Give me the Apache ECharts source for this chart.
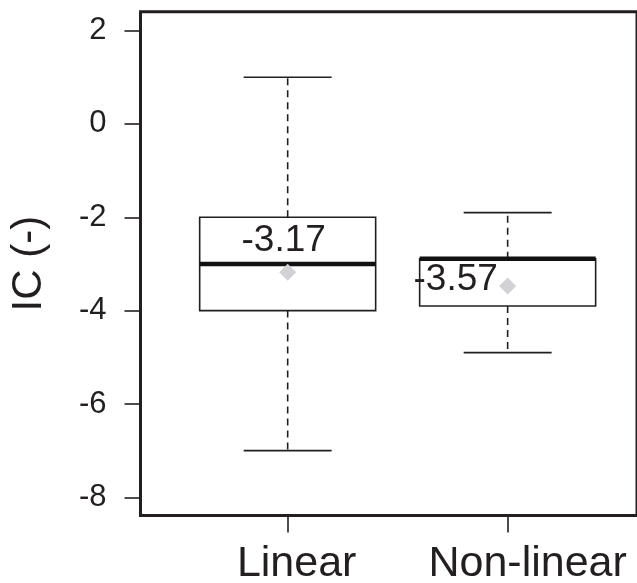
<!DOCTYPE html>
<html>
<head>
<meta charset="utf-8">
<script src="https://cdn.jsdelivr.net/npm/echarts@6/dist/echarts.min.js"></script>
<style>
  html, body { margin: 0; padding: 0; background: #fff; }
  #ic { width: 637px; height: 583px; }
</style>
</head>
<body>
<div id="ic"></div>
<script>
// groups on the x axis
let groups = ['Linear', 'Non-linear']
// five-number summary per group: lower whisker, Q1, median, Q3, upper whisker
let lowWhisker = [-7.0, -4.9]
let q1 = [-4.0, -3.9]
let median = [-3.0, -2.89]
let q3 = [-2.0, -2.89]
let highWhisker = [1.0, -1.9]
// group means (grey diamonds) and their printed labels
let means = [-3.18, -3.47]
let meanLabels = ['-3.17', '-3.57']
let yTicks = [-8, -6, -4, -2, 0, 2]

let ink = '#231f20'
let font = 'Liberation Sans, Arial, sans-serif'

let boxData = groups.map((g, i) => [i + 1, lowWhisker[i], q1[i], median[i], q3[i], highWhisker[i]])
let meanData = groups.map((g, i) => ({
    value: [i + 1, means[i]],
    label: {formatter: meanLabels[i], offset: i === 0 ? [-4, -32] : [-52, -6]}
}))

function renderBox(params, api) {
    let x = api.value(0)
    let lo = api.coord([x, api.value(1)])
    let b1 = api.coord([x, api.value(2)])
    let md = api.coord([x, api.value(3)])
    let b3 = api.coord([x, api.value(4)])
    let hi = api.coord([x, api.value(5)])
    let half = api.size([0.4, 0])[0]
    let cap = api.size([0.2, 0])[0]
    let cx = lo[0]
    let dashed = {stroke: ink, lineWidth: 1.6, lineDash: [7, 5]}
    let solid = {stroke: ink, lineWidth: 1.6}
    return {
        type: 'group',
        children: [
            {type: 'line', shape: {x1: cx, y1: b3[1], x2: cx, y2: hi[1]}, style: dashed},
            {type: 'line', shape: {x1: cx, y1: b1[1], x2: cx, y2: lo[1]}, style: dashed},
            {type: 'line', shape: {x1: cx - cap, y1: hi[1], x2: cx + cap, y2: hi[1]}, style: solid},
            {type: 'line', shape: {x1: cx - cap, y1: lo[1], x2: cx + cap, y2: lo[1]}, style: solid},
            {type: 'rect', shape: {x: cx - half, y: b3[1], width: half * 2, height: b1[1] - b3[1]},
                style: {fill: '#fff', stroke: ink, lineWidth: 1.6}},
            {type: 'line', shape: {x1: cx - half, y1: md[1], x2: cx + half, y2: md[1]},
                style: {stroke: '#111', lineWidth: 4.5}}
        ]
    }
}

let chart = echarts.init(document.getElementById('ic'), null, {renderer: 'canvas'})
chart.setOption({
    animation: false,
    backgroundColor: '#fff',
    textStyle: {fontFamily: font},
    grid: {
        left: 140.5, top: 11.7, right: 0, bottom: 67.5,
        show: true, borderColor: ink, borderWidth: 3, backgroundColor: 'transparent',
        outerBoundsMode: 'none'
    },
    xAxis: {
        type: 'value', min: 0.331, max: 2.588,
        splitLine: {show: false},
        axisLine: {show: false, onZero: false},
        axisTick: {show: true, customValues: [1, 2], length: 17, lineStyle: {color: ink, width: 1.6}},
        axisLabel: {
            customValues: [1, 2], margin: 27,
            formatter: v => v === 1 ? '{a|' + groups[0] + '}' : '{b|' + groups[1] + '}',
            rich: {
                a: {fontSize: 43, color: ink, fontFamily: font, padding: [0, 0, 0, 18]},
                b: {fontSize: 43, color: ink, fontFamily: font, padding: [0, 0, 0, 40]}
            }
        }
    },
    yAxis: {
        type: 'value', min: -8.39, max: 2.405,
        name: 'IC (-)', nameLocation: 'middle', nameGap: 90,
        nameTextStyle: {fontSize: 42, color: ink, fontFamily: font},
        splitLine: {show: false},
        axisLine: {show: false, onZero: false},
        axisTick: {show: true, customValues: yTicks, length: 16, lineStyle: {color: ink, width: 1.6}},
        axisLabel: {customValues: yTicks, margin: 34, fontSize: 31, color: ink, fontFamily: font}
    },
    series: [
        {
            type: 'custom',
            renderItem: renderBox,
            data: boxData,
            encode: {x: 0, y: [1, 2, 3, 4, 5]},
            z: 2
        },
        {
            type: 'scatter',
            data: meanData,
            symbol: 'diamond',
            symbolSize: [17, 17],
            itemStyle: {color: '#d2d2d6', opacity: 1},
            label: {show: true, position: 'inside', fontSize: 37, color: ink, opacity: 1,
                textBorderWidth: 0, fontFamily: font},
            z: 3
        }
    ]
})
</script>
</body>
</html>
